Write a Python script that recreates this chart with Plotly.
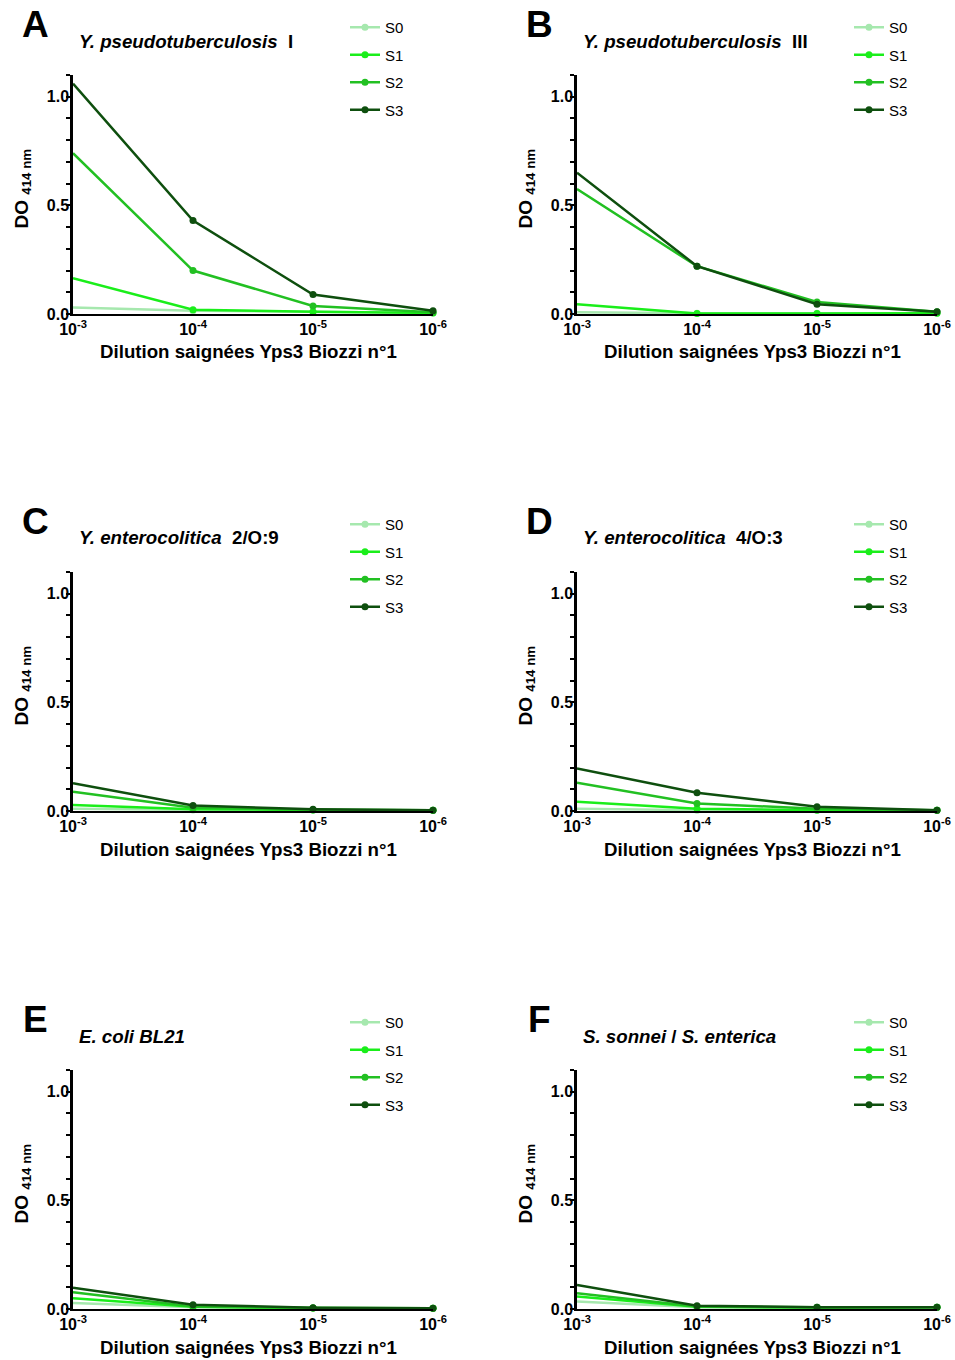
import plotly.graph_objects as go

dilutions = [1e-3, 1e-4, 1e-5, 1e-6]
tick_labels = ["10<sup>-3</sup>", "10<sup>-4</sup>", "10<sup>-5</sup>", "10<sup>-6</sup>"]
series_names = ["S0", "S1", "S2", "S3"]
colors = ["#a6e8ae", "#1aee1a", "#22c022", "#0e4f0e"]

panel_letters = ["A", "B", "C", "D", "E", "F"]
panel_titles = [
    "<i>Y. pseudotuberculosis</i>  I",
    "<i>Y. pseudotuberculosis</i>  III",
    "<i>Y. enterocolitica</i>  2/O:9",
    "<i>Y. enterocolitica</i>  4/O:3",
    "<i>E. coli BL21</i>",
    "<i>S. sonnei</i> / <i>S. enterica</i>",
]

# values per panel: S0, S1, S2, S3
A_S0 = [0.03, 0.015, 0.01, 0.005]
A_S1 = [0.165, 0.02, 0.01, 0.005]
A_S2 = [0.74, 0.20, 0.037, 0.008]
A_S3 = [1.06, 0.43, 0.09, 0.015]

B_S0 = [0.008, 0.003, 0.003, 0.003]
B_S1 = [0.045, 0.002, 0.002, 0.004]
B_S2 = [0.575, 0.22, 0.055, 0.01]
B_S3 = [0.65, 0.22, 0.045, 0.01]

C_S0 = [0.01, 0.005, 0.004, 0.003]
C_S1 = [0.028, 0.008, 0.005, 0.003]
C_S2 = [0.089, 0.015, 0.006, 0.003]
C_S3 = [0.128, 0.025, 0.008, 0.003]

D_S0 = [0.01, 0.004, 0.003, 0.003]
D_S1 = [0.043, 0.01, 0.004, 0.003]
D_S2 = [0.13, 0.035, 0.01, 0.003]
D_S3 = [0.196, 0.084, 0.02, 0.003]

E_S0 = [0.028, 0.008, 0.004, 0.003]
E_S1 = [0.049, 0.01, 0.005, 0.003]
E_S2 = [0.077, 0.012, 0.005, 0.003]
E_S3 = [0.098, 0.02, 0.006, 0.003]

F_S0 = [0.035, 0.008, 0.006, 0.008]
F_S1 = [0.058, 0.01, 0.007, 0.008]
F_S2 = [0.072, 0.011, 0.008, 0.008]
F_S3 = [0.11, 0.015, 0.008, 0.008]

panel_data = [
    [A_S0, A_S1, A_S2, A_S3],
    [B_S0, B_S1, B_S2, B_S3],
    [C_S0, C_S1, C_S2, C_S3],
    [D_S0, D_S1, D_S2, D_S3],
    [E_S0, E_S1, E_S2, E_S3],
    [F_S0, F_S1, F_S2, F_S3],
]

W, H = 955, 1360
FONT = "Liberation Sans, Arial, sans-serif"


def px(x):
    return x / W


def py(y):
    return 1 - y / H


col_x = [(73, 433), (577, 937)]
row_y = [(75, 314), (572, 811), (1070, 1309)]

fig = go.Figure()
layout = dict(
    template="none",
    width=W, height=H,
    margin=dict(l=0, r=0, t=0, b=0, pad=0, autoexpand=False),
    paper_bgcolor="white", plot_bgcolor="white",
    font=dict(family=FONT, color="black"),
    showlegend=True,
    hovermode="closest",
    annotations=[],
)

for i in range(6):
    r, c = divmod(i, 2)
    x0, x1 = col_x[c]
    ytop, ybot = row_y[r]
    n = "" if i == 0 else str(i + 1)
    xa = "xaxis" + n
    ya = "yaxis" + n
    leg = "legend" + n
    layout[xa] = dict(
        domain=[px(x0), px(x1)], anchor="y" + n, type="log",
        range=[-3, -6], tickvals=dilutions, ticktext=tick_labels,
        showline=True, linecolor="black", linewidth=2, ticks="",
        showgrid=False, zeroline=False, automargin=False,
        tickfont=dict(family=FONT, size=16, color="black", weight="bold"),
        ticklabelstandoff=0,
    )
    layout[ya] = dict(
        domain=[py(ybot), py(ytop)], anchor="x" + n,
        range=[0, 1.1], tickvals=[0, 0.5, 1.0], ticktext=["0.0", "0.5", "1.0"],
        showline=True, linecolor="black", linewidth=2.5,
        ticks="outside", ticklen=4, tickwidth=1.5, tickcolor="black",
        minor=dict(dtick=0.1, tick0=0, ticks="outside", ticklen=4, tickwidth=1.5, tickcolor="black"),
        showgrid=False, zeroline=False, automargin=False,
        tickfont=dict(family=FONT, size=16, color="black", weight="bold"),
        ticklabelstandoff=-6,
    )
    layout[leg] = dict(
        x=px(x0 + 272), y=py(ytop - 64), xanchor="left", yanchor="top",
        bgcolor="rgba(0,0,0,0)", borderwidth=0,
        font=dict(family=FONT, size=15, color="black"),
        tracegroupgap=5, itemwidth=30,
    )
    for k in range(4):
        fig.add_trace(go.Scatter(
            x=dilutions, y=panel_data[i][k], name=series_names[k],
            mode="lines+markers",
            line=dict(color=colors[k], width=2.5),
            marker=dict(color=colors[k], size=7),
            xaxis="x" + n, yaxis="y" + n, legend=leg,
            legendgroup=f"g{i}_{k}", cliponaxis=False,
        ))
    # panel letter
    layout["annotations"].append(dict(
        x=px(x0 - 38), y=py(ytop - 51), xref="paper", yref="paper",
        text="<b>" + panel_letters[i] + "</b>", showarrow=False,
        xanchor="center", yanchor="middle",
        font=dict(family=FONT, size=37, color="black"),
    ))
    # panel title
    layout["annotations"].append(dict(
        x=px(x0 + 4), y=py(ytop - 34), xref="paper", yref="paper",
        text="<b>" + panel_titles[i] + "</b>", showarrow=False,
        xanchor="left", yanchor="middle",
        font=dict(family=FONT, size=18.7, color="black"),
    ))
    # x title
    layout["annotations"].append(dict(
        x=px((x0 + x1) / 2 - 5), y=py(ybot + 38), xref="paper", yref="paper",
        text="<b>Dilution saignées Yps3 Biozzi n°1</b>", showarrow=False,
        xanchor="center", yanchor="middle",
        font=dict(family=FONT, size=18.7, color="black"),
    ))
    # y title
    layout["annotations"].append(dict(
        x=px(x0 - 51), y=py((ytop + ybot) / 2 - 6), xref="paper", yref="paper",
        text="<b>DO <sub>414 nm</sub></b>", showarrow=False, textangle=-90,
        xanchor="center", yanchor="middle",
        font=dict(family=FONT, size=19, color="black"),
    ))

fig.update_layout(**layout)
fig.write_html(
    "out.html",
    config={"displayModeBar": False},
    post_script="document.body.style.margin='0';document.body.style.overflow='hidden';",
)
